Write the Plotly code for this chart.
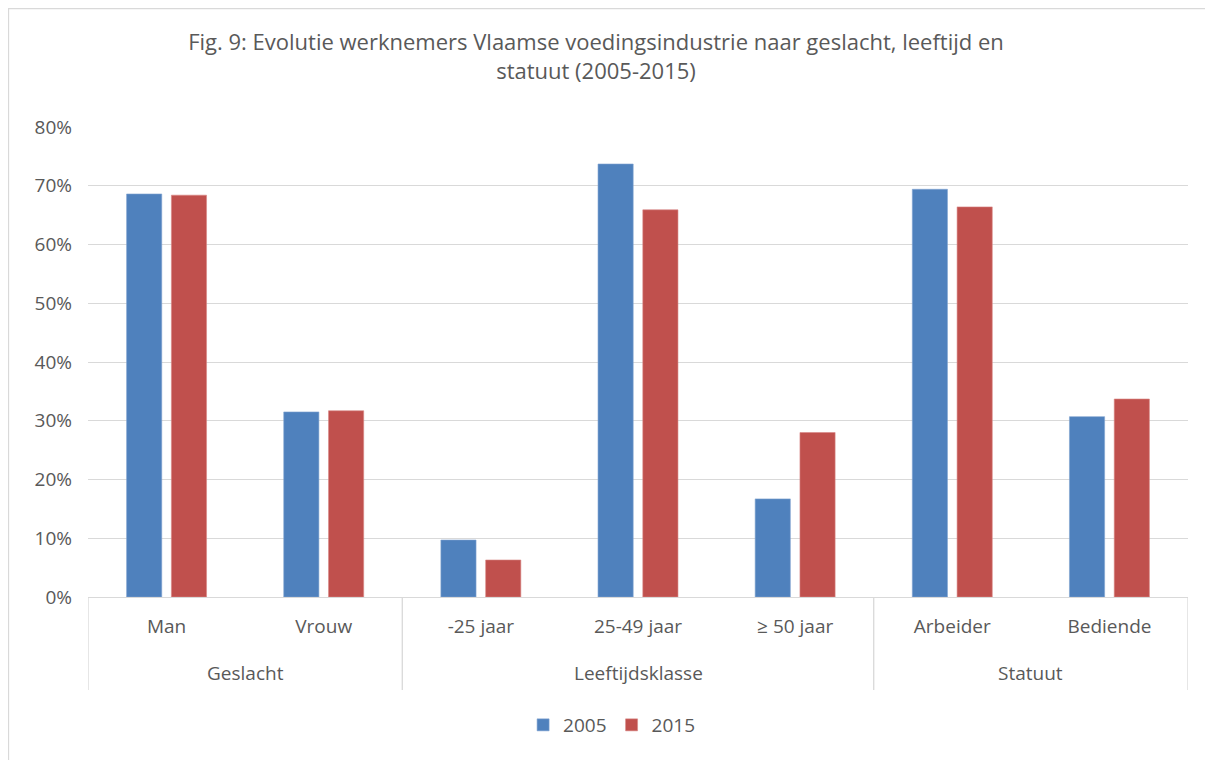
import plotly.graph_objects as go

groups = ["Geslacht", "Geslacht", "Leeftijdsklasse", "Leeftijdsklasse", "Leeftijdsklasse", "Statuut", "Statuut"]
categories = ["Man", "Vrouw", "-25 jaar", "25-49 jaar", "≥ 50 jaar", "Arbeider", "Bediende"]
series_names = ["2005", "2015"]
values_2005 = [0.686, 0.315, 0.097, 0.737, 0.167, 0.694, 0.307]
values_2015 = [0.684, 0.317, 0.063, 0.659, 0.280, 0.664, 0.337]
y_ticks = [0, 0.1, 0.2, 0.3, 0.4, 0.5, 0.6, 0.7, 0.8]

FONT = "Open Sans"
GREY = "#595959"
LINE = "#D9D9D9"

fig = go.Figure()
fig.add_trace(go.Bar(x=categories, y=values_2005, name=series_names[0],
                     marker=dict(color="#4F81BD", line=dict(color="#7FA3D0", width=0.6))))
fig.add_trace(go.Bar(x=categories, y=values_2015, name=series_names[1],
                     marker=dict(color="#C0504D", line=dict(color="#D88684", width=0.6))))

# page body has an 8px default margin; figure is sized/placed to compensate
W, H = 1205, 752
L, R, T, B = 80, 25, 119, 163
PW, PH = W - L - R, H - T - B

fig.update_layout(
    width=W, height=H,
    margin=dict(l=L, r=R, t=T, b=B),
    paper_bgcolor="white", plot_bgcolor="white",
    barmode="group", bargap=0.43, bargroupgap=0.215,
    font=dict(family=FONT, color=GREY, size=19),
    title=dict(text="Fig. 9: Evolutie werknemers Vlaamse voedingsindustrie naar geslacht, leeftijd en<br>statuut (2005-2015)",
               x=588 / W, xanchor="center", xref="container",
               y=1 - 42 / H, yanchor="top", yref="container",
               font=dict(family=FONT, size=22, color=GREY)),
    legend=dict(orientation="h", x=0.476, xanchor="center", y=-(717 - (T + PH)) / PH,
                yanchor="middle", font=dict(size=19, color=GREY), traceorder="normal",
                itemwidth=30, tracegroupgap=0),
    showlegend=True,
)
fig.update_yaxes(range=[0, 0.8], tickvals=y_ticks, tickformat=".0%",
                 showgrid=True, gridcolor=LINE, gridwidth=1.3,
                 zeroline=False, showline=False, ticks="", ticklabelstandoff=15,
                 tickfont=dict(size=19, color=GREY))
fig.update_xaxes(type="category", showline=True, linecolor=LINE, linewidth=1.3,
                 ticks="", ticklabelstandoff=12, tickfont=dict(size=19, color=GREY),
                 range=[-0.5, len(categories) - 0.5])

# group labels and dividers of the two-level category axis
bounds = [-0.5]
group_order = []
for i, g in enumerate(groups):
    if i == 0 or g != groups[i - 1]:
        group_order.append([g, i, i])
    else:
        group_order[-1][2] = i
for g, i0, i1 in group_order:
    fig.add_annotation(x=(i0 + i1) / 2, xref="x", y=-76 / PH, yref="paper", text=g,
                       showarrow=False, yanchor="middle", font=dict(size=19, color=GREY))
    bounds.append(i1 + 0.5)
for b in bounds:
    fig.add_shape(type="line", xref="x", yref="paper", x0=b, x1=b, y0=0, y1=-93 / PH,
                  line=dict(color=LINE, width=1.3))

# outer chart frame
fig.add_shape(type="rect", xref="paper", yref="paper",
              x0=(0.5 - L) / PW, x1=(W + 20 - L) / PW,
              y0=-(H + 20 - T - PH) / PH, y1=(T + PH - 0.5) / PH,
              line=dict(color=LINE, width=1.3), fillcolor="rgba(0,0,0,0)", layer="below")

fig.write_html("out.html")
